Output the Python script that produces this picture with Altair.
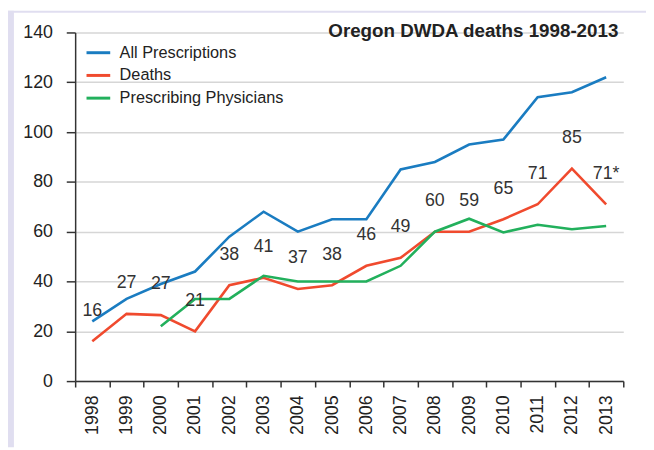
import altair as alt
import pandas as pd

years = [str(y) for y in range(1998, 2014)]
prescriptions = [24, 33, 39, 44, 58, 68, 60, 65, 65, 85, 88, 95, 97, 114, 116, 122]
deaths = [16, 27, 26.5, 20, 38.5, 41.5, 37, 38.5, 46.3, 49.5, 60, 60, 65, 71, 85.3, 71]
physicians = [None, None, 22, 33, 33, 42.3, 40, 40, 40, 46.3, 60, 65.2, 59.7, 62.8, 61, 62.3]
death_labels = ["16", "27", "27", "21", "38", "41", "37", "38", "46", "49", "60", "59", "65", "71", "85", "71*"]

series_names = ["All Prescriptions", "Deaths", "Prescribing Physicians"]
series_colors = ["#1a7cc1", "#f04a2e", "#22b05c"]

rows = []
for name, vals in zip(series_names, [prescriptions, deaths, physicians]):
    for y, v in zip(years, vals):
        if v is not None:
            rows.append({"year": y, "value": v, "series": name})
df = pd.DataFrame(rows)
lab = pd.DataFrame({"year": years, "value": deaths, "label": death_labels})

FONT = "Liberation Sans"
W, H = 555, 353
FRAME = "#e0def0"

xenc = alt.X(
    "year:O",
    scale=alt.Scale(type="band", paddingInner=0, paddingOuter=0, domain=years),
    bandPosition=0.5,
    axis=alt.Axis(
        tickBand="extent", labelAngle=-90, labelFontSize=18, labelFont=FONT,
        labelColor="#222", labelPadding=8, tickSize=6, tickColor="#333",
        tickWidth=1.5, domainColor="#333", domainWidth=1.5, grid=False, title=None,
    ),
)
yenc = alt.Y(
    "value:Q",
    scale=alt.Scale(domain=[0, 140], nice=False),
    axis=alt.Axis(
        values=[0, 20, 40, 60, 80, 100, 120, 140], grid=True, gridColor="#d6d6d6",
        gridWidth=1.5, domainColor="#333", domainWidth=1.5, tickColor="#333",
        tickSize=9, tickWidth=1.5, labelFontSize=18, labelFont=FONT,
        labelColor="#222", labelPadding=14, title=None,
    ),
)

one = pd.DataFrame({"a": [0]})
strip_left = alt.Chart(one).mark_rect(color=FRAME).encode(
    x=alt.value(-68), x2=alt.value(-62), y=alt.value(-22), y2=alt.value(H + 67)
)
strip_top = alt.Chart(one).mark_rect(color=FRAME).encode(
    x=alt.value(-68), x2=alt.value(W + 23), y=alt.value(-22), y2=alt.value(-20)
)

lines = alt.Chart(df).mark_line(strokeWidth=2.6).encode(
    x=xenc,
    y=yenc,
    color=alt.Color(
        "series:N",
        scale=alt.Scale(domain=series_names, range=series_colors),
        legend=alt.Legend(
            orient="none", legendX=10, legendY=7, title=None, symbolType="stroke",
            symbolSize=576, symbolStrokeWidth=3, labelFontSize=16.5, labelFont=FONT,
            labelOffset=8, rowPadding=1, padding=0, labelColor="#222", labelLimit=400,
        ),
    ),
    order=alt.Order("year:O"),
)

texts = alt.Chart(lab).mark_text(
    dy=-31, fontSize=18, font=FONT, color="#333", baseline="middle", align="center"
).encode(x=xenc, y=yenc, text="label:N")

chart = alt.layer(strip_left, strip_top, lines, texts).properties(
    width=W,
    height=H,
    autosize=alt.AutoSizeParams(type="none"),
    padding={"left": 68, "top": 22, "right": 23, "bottom": 67},
    title=alt.TitleParams(
        "Oregon DWDA deaths 1998-2013", anchor="end", frame="group", fontSize=19,
        fontWeight="bold", font=FONT, color="#222", offset=0, baseline="alphabetic",
        dy=46, dx=-5,
    ),
).configure(background="white").configure_view(stroke=None)

chart.save("out.html", embed_options={"renderer": "svg", "actions": False})
